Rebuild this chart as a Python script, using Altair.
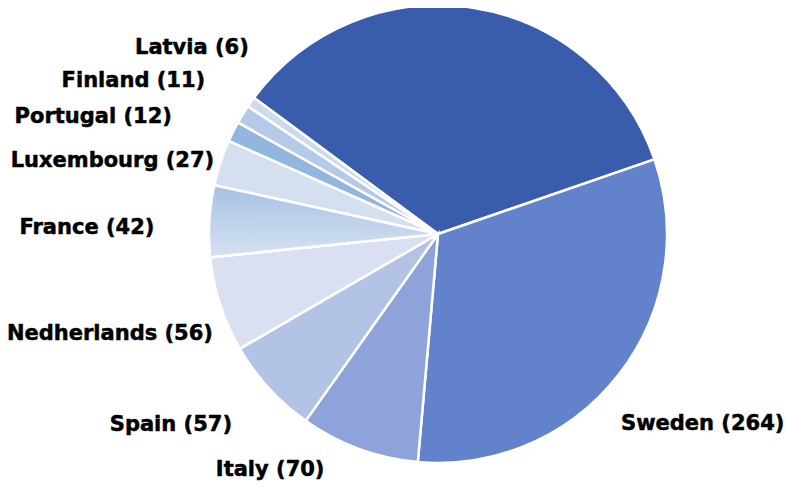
import math
import altair as alt
import pandas as pd

# ---- data ----
countries = ["(label cut off)", "Sweden", "Italy", "Spain", "Nedherlands",
             "France", "Luxembourg", "Portugal", "Finland", "Latvia"]
values = [288, 264, 70, 57, 56, 42, 27, 12, 11, 6]
colors = ["#3A5CAD", "#6283CB", "#8DA3D9", "#B3C3E5", "#DADFF1",
          "#BCD0EA", "#D4E0F0", "#93B6DF", "#B4CAE7", "#CCDAEE"]

df = pd.DataFrame({"country": countries, "value": values,
                   "idx": list(range(len(countries)))})
df["label"] = df["country"] + " (" + df["value"].astype(str) + ")"

# ---- layout ----
W, H = 777, 475
CX, CY = 430, 226
R = 229
LR = 245
total = sum(values)
start = math.radians(306.5)
theta_scale = alt.Scale(domain=[0, total], range=[start, start + 2 * math.pi])

# label offsets: country -> (align, dx, dy)
label_layout = {
    "Sweden": ("left", -10, 39),
    "Italy": ("right", -29, 6),
    "Spain": ("right", -25, 26),
    "Nedherlands": ("right", 8, 24),
    "France": ("right", -39, 8),
    "Luxembourg": ("right", 9, 3),
    "Portugal": ("right", -47, -7),
    "Finland": ("right", -24, -25),
    "Latvia": ("right", 11, -45),
}

base = alt.Chart(df).transform_window(
    cum="sum(value)", sort=[alt.SortField("idx")]
).transform_calculate(
    start="datum.cum - datum.value", mid="datum.cum - datum.value / 2"
)

arcs = base.mark_arc(outerRadius=R, stroke="white", strokeWidth=2.5).encode(
    theta=alt.Theta("start:Q", scale=theta_scale),
    theta2="cum:Q",
    color=alt.Color("country:N", scale=alt.Scale(domain=countries, range=colors), legend=None),
    x=alt.value(CX), y=alt.value(CY),
)

france_grad = base.transform_filter(alt.datum.country == "France").mark_arc(
    outerRadius=R, stroke="white", strokeWidth=2.5,
    fill=alt.Gradient(gradient="linear",
                      stops=[alt.GradientStop(color="#A6C1E4", offset=0),
                             alt.GradientStop(color="#D6E2F1", offset=1)],
                      x1=0, x2=0, y1=0, y2=1),
).encode(
    theta=alt.Theta("start:Q", scale=theta_scale), theta2="cum:Q",
    x=alt.value(CX), y=alt.value(CY),
)

layers = [arcs, france_grad]
for name, (align, dx, dy) in label_layout.items():
    layers.append(
        base.transform_filter(alt.datum.country == name).mark_text(
            radius=LR, align=align, baseline="middle", dx=dx, dy=dy,
            font="DejaVu Sans", fontWeight="bold", fontSize=21, color="#000000",
            stroke="#000000", strokeWidth=0.5,
        ).encode(
            theta=alt.Theta("mid:Q", scale=theta_scale),
            text="label:N",
            x=alt.value(CX), y=alt.value(CY),
        )
    )

chart = alt.layer(*layers).properties(
    width=W, height=H, autosize=alt.AutoSizeParams(type="none"), padding=0,
).configure_view(stroke=None)

chart.save("out.html", embed_options={"renderer": "svg", "actions": False})
